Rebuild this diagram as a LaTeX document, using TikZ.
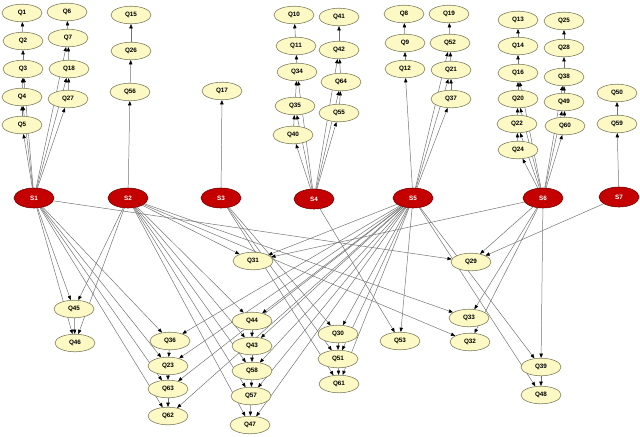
\documentclass[tikz,border=0pt]{standalone}
\usepackage{fontspec}
\setsansfont{Liberation Sans}
\usepackage{tikz}
\usetikzlibrary{shapes.geometric,arrows.meta}
\definecolor{qyellow}{RGB}{252,249,196}
\definecolor{qborder}{RGB}{120,120,90}
\definecolor{sred}{RGB}{196,0,0}
\definecolor{sborder}{RGB}{110,0,0}
\pgfdeclarelayer{bg}
\pgfsetlayers{bg,main}

\begin{document}
\begin{tikzpicture}[x=0.025cm, y=-0.025cm,
            every node/.style = {shape=ellipse, draw, inner sep=0pt,
                                font=\fontsize{4.5}{5}\sffamily\bfseries},
            qnode/.style = {fill=qyellow, draw=qborder, line width=0.4pt,
                                minimum width=1.0cm, minimum height=0.44cm},
            snode/.style = {fill=sred, draw=sborder, text=white, line width=0.4pt,
                                minimum width=1.0cm, minimum height=0.5cm},
            edge/.style = {draw=black!55, line width=0.35pt,
                                -{Triangle[length=3pt,width=2.4pt,fill=black,color=black]}}]
    \useasboundingbox (0,0) rectangle (640,436);
    % sources
    \foreach \n/\x/\y in {S1/34/198, S2/128/198, S3/221/198, S4/314/199,
                          S5/413/198, S6/543/198, S7/619/197}
        \node[snode] (\n) at (\x,\y) {\n};
    % questions above the sources
    \foreach \n/\x/\y in {Q1/22/13, Q2/23/41, Q3/23/69, Q4/22/97, Q5/22/125,
                          Q6/67/12, Q7/68/38, Q18/69/69, Q27/68/99,
                          Q15/131/15, Q26/131/51, Q56/130/92,
                          Q17/222/91,
                          Q10/294/15, Q11/296/46, Q34/297/72, Q35/295/106, Q40/293/135,
                          Q41/339/17, Q42/339/50, Q64/341/82, Q55/339/113,
                          Q8/404/14, Q9/405/43, Q12/405/69,
                          Q19/449/14, Q52/450/43, Q21/451/70, Q37/451/99,
                          Q13/518/20, Q14/518/46, Q16/518/73, Q20/518/99, Q22/517/124, Q24/518/150,
                          Q25/564/21, Q28/564/48, Q38/564/77, Q49/564/102, Q60/565/126,
                          Q50/617/93, Q59/617/124}
        \node[qnode] (\n) at (\x,\y) {\n};
    % questions below the sources
    \foreach \n/\x/\y in {Q31/253/261, Q29/471/262, Q45/74/309, Q46/75/343,
                          Q36/170/341, Q23/168/366, Q63/168/389, Q62/168/416,
                          Q44/252/321, Q43/252/346, Q58/252/371, Q57/251/396, Q47/250/425,
                          Q30/338/334, Q51/338/359, Q61/339/384, Q53/400/341,
                          Q33/469/318, Q32/470/342, Q39/541/367, Q48/541/395}
        \node[qnode] (\n) at (\x,\y) {\n};

    \begin{pgfonlayer}{bg}
    % upward chains
    \foreach \a/\b in {S1/Q5, S1/Q4, S1/Q3, Q5/Q4, Q4/Q3, Q3/Q2, Q2/Q1,
                       S1/Q27, S1/Q18, S1/Q7, Q27/Q18, Q18/Q7, Q7/Q6,
                       S2/Q56, Q56/Q26, Q26/Q15, S3/Q17,
                       S4/Q40, S4/Q35, S4/Q34, Q40/Q35, Q35/Q34, Q34/Q11, Q11/Q10,
                       S4/Q55, S4/Q64, S4/Q42, Q55/Q64, Q64/Q42, Q42/Q41,
                       S5/Q12, Q12/Q9, Q9/Q8,
                       S5/Q37, S5/Q21, S5/Q52, Q37/Q21, Q21/Q52, Q52/Q19,
                       S6/Q24, S6/Q22, S6/Q20, S6/Q16, Q24/Q22, Q22/Q20, Q20/Q16, Q16/Q14, Q14/Q13,
                       S6/Q60, S6/Q49, S6/Q38, Q60/Q49, Q49/Q38, Q38/Q28, Q28/Q25,
                       S7/Q59, Q59/Q50}
        \draw[edge] (\a) -- (\b);
    % downward edges
    \foreach \a/\b in {S1/Q45, S1/Q46, S1/Q36, S1/Q23, S1/Q63, S1/Q62, S1/Q29,
                       S2/Q45, S2/Q46, S2/Q31, S2/Q44, S2/Q43, S2/Q58, S2/Q57, S2/Q47,
                       S2/Q33, S2/Q32,
                       S3/Q30, S3/Q51, S3/Q61, S4/Q53,
                       S5/Q31, S5/Q36, S5/Q23, S5/Q63, S5/Q62, S5/Q44, S5/Q43, S5/Q58,
                       S5/Q57, S5/Q47, S5/Q30, S5/Q51, S5/Q61, S5/Q53, S5/Q39, S5/Q48,
                       S6/Q31, S6/Q29, S6/Q33, S6/Q32, S6/Q39, S7/Q29,
                       Q45/Q46, Q36/Q23, Q23/Q63, Q63/Q62,
                       Q44/Q43, Q43/Q58, Q58/Q57, Q57/Q47,
                       Q30/Q51, Q51/Q61, Q39/Q48}
        \draw[edge] (\a) -- (\b);
    \end{pgfonlayer}
\end{tikzpicture}
\end{document}
